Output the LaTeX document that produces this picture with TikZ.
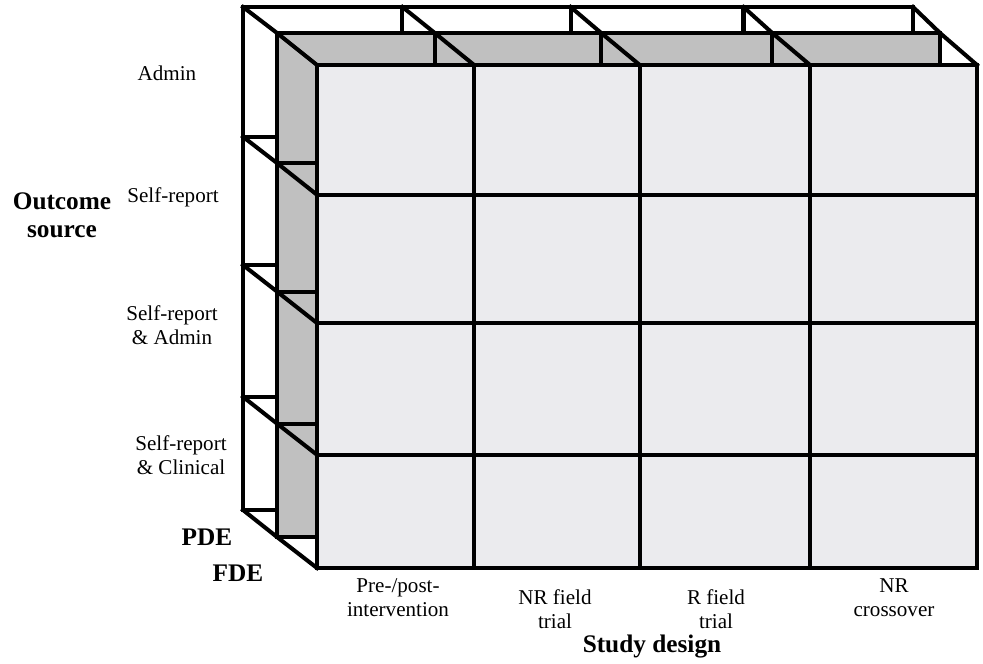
\documentclass[tikz,border=0pt]{standalone}
\usepackage{fontspec}
\setmainfont{Liberation Serif}

\definecolor{pde gray}{RGB}{192,192,192}
\definecolor{cell gray}{RGB}{235,235,238}
\tikzstyle{grid line}=[black, line width=2.3pt, line cap=rect, line join=miter]
\tikzstyle{cat label}=[align=center, inner sep=0pt, font=\fontsize{12}{13.5}\selectfont]
\tikzstyle{axis label}=[align=center, inner sep=0pt, font=\fontsize{14.4}{16}\selectfont\bfseries]

\begin{document}
\begin{tikzpicture}[x=0.02cm, y=-0.02cm]
	\useasboundingbox (0,0) rectangle (983,663);

	% Layers: FDE (back), PDE (middle), front grid
	\foreach \l/\t/\w/\h/\col in {243/7/670/503/white, 277/33/663/504/pde gray, 317/65/660/503/cell gray}{
		\fill[fill=\col] (\l,\t) rectangle ++(\w,\h);
		\foreach \c in {0,0.238,0.489,0.747,1}{ \draw[grid line] (\l+\w*\c,\t) -- ++(0,\h); }
		\foreach \r in {0,0.258,0.513,0.775,1}{ \draw[grid line] (\l,\t+\h*\r) -- ++(\w,0); }
	}

	% Depth edges
	\foreach \c in {0,0.238,0.489,0.747,1}{ \draw[grid line] (243+670*\c,7) -- (277+663*\c,33) -- (317+660*\c,65); }
	\foreach \r in {0.258,0.513,0.775,1}{ \draw[grid line] (243,7+503*\r) -- (277,33+504*\r) -- (317,65+503*\r); }

	% Outcome source
	\node[cat label] (admin) at (167,73) {Admin};
	\node[cat label] (selfrep) at (173,197) {Self-report};
	\node[cat label] (selfadmin) at (172,325) {Self-report\\\& Admin};
	\node[cat label] (selfclin) at (181,455) {Self-report\\\& Clinical};
	\node[axis label] (outcome) at (62,215) {Outcome\\source};
	\node[axis label] (pde) at (207,537) {PDE};
	\node[axis label] (fde) at (238,573) {FDE};

	% Study design
	\node[cat label] (prepost) at (398,598) {Pre-/post-\\intervention};
	\node[cat label] (nrfield) at (555,609) {NR field\\trial};
	\node[cat label] (rfield) at (716,609) {R field\\trial};
	\node[cat label] (nrcross) at (894,598) {NR\\crossover};
	\node[axis label] (design) at (652,647) {Study design};
\end{tikzpicture}
\end{document}
